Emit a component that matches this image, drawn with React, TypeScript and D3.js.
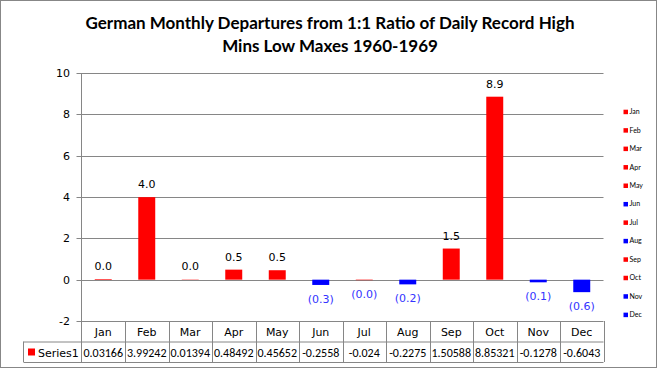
import React from "react";
import * as d3 from "d3";

const months = ["Jan", "Feb", "Mar", "Apr", "May", "Jun", "Jul", "Aug", "Sep", "Oct", "Nov", "Dec"];
const values = [0.03166, 3.99242, 0.01394, 0.48492, 0.45652, -0.2558, -0.024, -0.2275, 1.50588, 8.85321, -0.1278, -0.6043];
const tableLabels = ["0.03166", "3.99242", "0.01394", "0.48492", "0.45652", "-0.2558", "-0.024", "-0.2275", "1.50588", "8.85321", "-0.1278", "-0.6043"];
const barColors = ["#FF0000", "#FF0000", "#FF0000", "#FF0000", "#FF0000", "#0000FF", "#FF0000", "#0000FF", "#FF0000", "#FF0000", "#0000FF", "#0000FF"];
const yTicks = [-2, 0, 2, 4, 6, 8, 10];
const titleLines = ["German Monthly Departures from 1:1 Ratio of Daily Record High", "Mins Low Maxes 1960-1969"];
const seriesName = "Series1";

const W = 660, H = 370;
const plotL = 81.5, plotR = 603.5, plotT = 73, plotB = 321;
const rowH = 20.5;

export default function App() {
  const x = d3.scaleBand<string>().domain(months).range([plotL, plotR]).paddingInner(0).paddingOuter(0);
  const y = d3.scaleLinear().domain([-2, 10]).range([plotB, plotT]);
  const bw = x.bandwidth() * 0.39;
  const grid = "#868686";
  const fmt = (v: number) => (v < 0 ? `(${Math.abs(v).toFixed(1)})` : v.toFixed(1));
  const tickFont = "Tahoma, 'DejaVu Sans', sans-serif";
  const tblFont = "Carlito, Lato, sans-serif";
  const row1 = plotB, row2 = plotB + rowH, row3 = plotB + rowH * 2;
  return (
    <div style={{ position: "fixed", left: 0, top: 0 }}>
      <svg width={W} height={H} style={{ display: "block", background: "#fff" }}>
        <rect x={0.5} y={0.5} width={656} height={367} fill="#fff" stroke="#878787" strokeWidth={1} />
        {titleLines.map((t, i) => (
          <text key={i} x={330} y={29 + i * 23} textAnchor="middle" fontFamily="Lato, sans-serif" fontWeight="bold" fontSize={17} fill="#000">{t}</text>
        ))}
        {yTicks.map((t) => (
          <g key={t}>
            <line x1={plotL - 5} x2={plotR} y1={Math.round(y(t)) + 0.5} y2={Math.round(y(t)) + 0.5} stroke={grid} strokeWidth={1} />
            <text x={70} y={y(t) + 4} textAnchor="end" fontFamily={tickFont} fontSize={11} fill="#000">{t}</text>
          </g>
        ))}
        <line x1={plotL} x2={plotL} y1={plotT} y2={row3} stroke={grid} />
        {values.map((v, i) => {
          const x0 = (x(months[i]) as number) + (x.bandwidth() - bw) / 2;
          const y0 = y(Math.max(0, v));
          const h = Math.abs(y(v) - y(0));
          return <rect key={i} x={x0} y={y0} width={bw} height={h} fill={barColors[i]} />;
        })}
        {values.map((v, i) => {
          const cx = (x(months[i]) as number) + x.bandwidth() / 2;
          const neg = v < 0;
          const ly = neg ? y(v) + 18 : y(v) - 9;
          return (
            <text key={i} x={cx} y={ly} textAnchor="middle" fontFamily={tickFont} fontSize={11} fill={neg ? "#3333FF" : "#000"}>{fmt(v)}</text>
          );
        })}
        <line x1={23.5} x2={plotR} y1={row2 + 0.5} y2={row2 + 0.5} stroke={grid} />
        <line x1={23.5} x2={plotR} y1={row3 + 0.5} y2={row3 + 0.5} stroke={grid} />
        <line x1={23.5} x2={23.5} y1={row2} y2={row3} stroke={grid} />
        {months.map((m) => {
          const bx = (x(m) as number) + x.bandwidth();
          return <line key={m} x1={Math.round(bx) + 0.5} x2={Math.round(bx) + 0.5} y1={row1} y2={row3} stroke={grid} />;
        })}
        {months.map((m) => (
          <text key={m} x={(x(m) as number) + x.bandwidth() / 2} y={row1 + 15} textAnchor="middle" fontFamily={tickFont} fontSize={11} fill="#000">{m}</text>
        ))}
        {tableLabels.map((s, i) => (
          <text key={i} x={(x(months[i]) as number) + x.bandwidth() / 2} y={row2 + 15} textAnchor="middle" fontFamily={tblFont} fontSize={12} fill="#000">{s}</text>
        ))}
        <rect x={28} y={row2 + 7} width={7} height={7} fill="#FF0000" />
        <text x={38} y={row2 + 15} fontFamily={tickFont} fontSize={11} fill="#000">{seriesName}</text>
        {months.map((m, i) => {
          const ly = 111.7 + i * 18.45;
          return (
            <g key={m}>
              <rect x={623.5} y={ly - 2} width={4.5} height={4.5} fill={barColors[i]} />
              <text x={629.5} y={ly + 2.5} fontFamily="Lato, sans-serif" fontSize={7} fill="#000">{m}</text>
            </g>
          );
        })}
      </svg>
    </div>
  );
}
